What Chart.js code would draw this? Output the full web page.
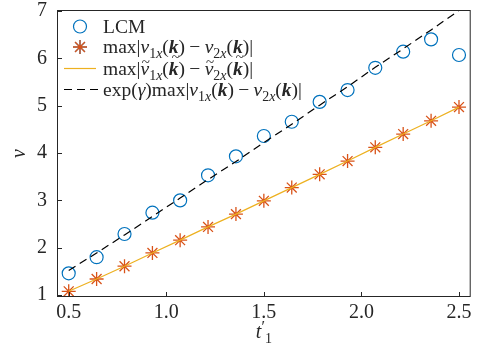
<!DOCTYPE html>
<html>
<head>
<meta charset="utf-8">
<script src="https://cdn.jsdelivr.net/npm/chart.js@4.4.0/dist/chart.umd.min.js"></script>
<style>
    body { margin: 0; background: #ffffff; }
    #wrap { width: 479px; height: 351px; }
</style>
</head>
<body>
<div id="wrap"><canvas id="chart1" width="479" height="351"></canvas></div>
<script>

/***************** DATA *****************/
const xValues = [0.5, 0.643, 0.786, 0.929, 1.071, 1.214, 1.357, 1.5, 1.643, 1.786, 1.929, 2.071, 2.214, 2.357, 2.5];
const lcmValues = [1.46, 1.80, 2.29, 2.74, 3.00, 3.53, 3.93, 4.36, 4.66, 5.08, 5.33, 5.80, 6.14, 6.40, 6.07];
const maxDiffValues = [1.08, 1.34, 1.61, 1.89, 2.16, 2.44, 2.71, 2.99, 3.27, 3.55, 3.83, 4.12, 4.40, 4.68, 4.97];
const maxDiffTildeValues = [1.08, 1.34, 1.61, 1.89, 2.16, 2.44, 2.71, 2.99, 3.27, 3.55, 3.83, 4.12, 4.40, 4.68, 4.97];
const expGammaValues = [1.52, 1.89, 2.27, 2.66, 3.05, 3.44, 3.82, 4.22, 4.61, 5.01, 5.40, 5.81, 6.20, 6.60, 7.01];
const xTicks = [0.5, 1.0, 1.5, 2.0, 2.5];
const yTicks = [1, 2, 3, 4, 5, 6, 7];

/************* COLORS / FONTS ***********/
const c_blue = '#0072BD';
const c_red = '#D95319';
const c_yellow = '#EDB120';
const c_axis = '#262626';
const serif = '"Liberation Serif", "DejaVu Serif", serif';

function toPoints(ys) {
    return xValues.map((x, i) => ({ x: x, y: ys[i] }));
}

// draws text made of runs: [text, style, flags]
function drawRich(ctx, runs, x, y, size) {
    const subSize = Math.round(size * 0.7);
    runs.forEach(r => {
        const txt = r[0], style = r[1] || '', flag = r[2] || '';
        const isSub = flag.includes('sub');
        const isSup = flag.includes('sup');
        let fs = size;
        if (isSub) fs = subSize;
        if (isSup) fs = Math.round(size * 0.8);
        let fontStyle = '';
        if (style === 'i') fontStyle = 'italic ';
        if (style === 'bi') fontStyle = 'italic bold ';
        ctx.font = fontStyle + fs + 'px ' + serif;
        let yy = y;
        if (isSub) yy = y + size * 0.27;
        if (isSup) yy = y - size * 0.3;
        if (flag.includes('sp')) x += size * 0.22;
        ctx.fillText(txt, x, yy);
        const w = ctx.measureText(txt).width;
        if (flag.includes('tilde')) {
            const high = flag.includes('tildeHigh');
            ctx.font = '15px ' + serif;
            const tw = ctx.measureText('~').width;
            ctx.fillText('~', x + w / 2 - tw / 2 + (high ? 2 : 1), yy - (high ? 13 : 8));
        }
        x += w;
        if (flag.includes('sp')) x += size * 0.22;
    });
}

const legendItems = [
    { kind: 'circle', runs: [['LCM', '']] },
    { kind: 'star', runs: [['max|', ''], ['v', 'i'], ['1', '', 'sub'], ['x', 'i', 'sub'], ['(', ''], ['k', 'bi'], [')', ''],
        ['\u2212', '', 'sp'], ['v', 'i'], ['2', '', 'sub'], ['x', 'i', 'sub'], ['(', ''], ['k', 'bi'], [')|', '']] },
    { kind: 'line', runs: [['max|', ''], ['v', 'i', 'tilde'], ['1', '', 'sub'], ['x', 'i', 'sub'], ['(', ''], ['k', 'bi', 'tildeHigh'], [')', ''],
        ['\u2212', '', 'sp'], ['v', 'i', 'tilde'], ['2', '', 'sub'], ['x', 'i', 'sub'], ['(', ''], ['k', 'bi', 'tildeHigh'], [')|', '']] },
    { kind: 'dash', runs: [['exp(', ''], ['\u03b3', 'i'], [')max|', ''], ['v', 'i'], ['1', '', 'sub'], ['x', 'i', 'sub'], ['(', ''], ['k', 'bi'], [')', ''],
        ['\u2212', '', 'sp'], ['v', 'i'], ['2', '', 'sub'], ['x', 'i', 'sub'], ['(', ''], ['k', 'bi'], [')|', '']] }
];
const legendRowY = [26.5, 47, 68.5, 89.5];

// frame, inward ticks, legend and x title
const decorPlugin = {
    id: 'decor',
    afterDraw(chart) {
        const ctx = chart.ctx;
        const a = chart.chartArea;
        const xs = chart.scales.x, ys = chart.scales.y;
        ctx.save();
        ctx.strokeStyle = c_axis;
        ctx.lineWidth = 1;
        ctx.strokeRect(a.left + 0.5, a.top + 0.5, a.right - a.left - 1, a.bottom - a.top - 1);
        ctx.beginPath();
        xTicks.forEach(t => {
            const px = Math.round(xs.getPixelForValue(t)) + 0.5;
            ctx.moveTo(px, a.bottom);
            ctx.lineTo(px, a.bottom - 5);
        });
        yTicks.forEach(t => {
            const py = Math.round(ys.getPixelForValue(t)) + 0.5;
            ctx.moveTo(a.left, py);
            ctx.lineTo(a.left + 5, py);
        });
        ctx.stroke();

        // legend
        ctx.textBaseline = 'alphabetic';
        ctx.textAlign = 'left';
        legendItems.forEach((item, i) => {
            const cy = legendRowY[i];
            if (item.kind === 'circle') {
                ctx.strokeStyle = c_blue;
                ctx.lineWidth = 1.2;
                ctx.beginPath();
                ctx.arc(80, cy, 6.5, 0, Math.PI * 2);
                ctx.stroke();
            } else if (item.kind === 'star') {
                Chart.helpers.drawPoint(ctx, { pointStyle: 'star', radius: 7, borderWidth: 1.3 }, 80, cy);
                ctx.strokeStyle = c_red;
                ctx.lineWidth = 1.3;
                ctx.stroke();
            } else if (item.kind === 'line') {
                ctx.strokeStyle = c_yellow;
                ctx.lineWidth = 1.2;
                ctx.beginPath();
                ctx.moveTo(64, cy);
                ctx.lineTo(96, cy);
                ctx.stroke();
            } else {
                ctx.strokeStyle = '#000000';
                ctx.lineWidth = 1.2;
                ctx.setLineDash([8, 5]);
                ctx.beginPath();
                ctx.moveTo(64, cy);
                ctx.lineTo(98, cy);
                ctx.stroke();
                ctx.setLineDash([]);
            }
            ctx.fillStyle = c_axis;
            drawRich(ctx, item.runs, 103, cy + 6, 19.5);
        });

        // x axis title t'_1
        const cx = (xs.left + xs.right) / 2;
        ctx.fillStyle = c_axis;
        drawRich(ctx, [['t', 'i'], ['\u2032', '', 'sup'], ['1', '', 'sub']], cx - 8, 338, 20);
        ctx.restore();
    }
};

// Get the canvas element and create the chart
const ctx = document.getElementById('chart1').getContext('2d');
const myChart = new Chart(ctx, {
    type: 'scatter',
    data: {
        datasets: [{
            label: 'LCM',
            data: toPoints(lcmValues),
            showLine: false,
            pointStyle: 'circle',
            pointRadius: 6.5,
            pointBorderWidth: 1.2,
            pointBorderColor: c_blue,
            pointBackgroundColor: 'rgba(0,0,0,0)',
            order: 4
        }, {
            label: 'max',
            data: toPoints(maxDiffValues),
            showLine: false,
            pointStyle: 'star',
            pointRadius: 7,
            pointBorderWidth: 1.3,
            pointBorderColor: c_red,
            pointBackgroundColor: c_red,
            order: 3
        }, {
            label: 'max tilde',
            data: toPoints(maxDiffTildeValues),
            showLine: true,
            borderColor: c_yellow,
            borderWidth: 1.2,
            pointRadius: 0,
            tension: 0,
            order: 2
        }, {
            label: 'exp gamma',
            data: toPoints(expGammaValues),
            showLine: true,
            borderColor: '#000000',
            borderWidth: 1.2,
            borderDash: [8, 5],
            pointRadius: 0,
            tension: 0,
            order: 1
        }]
    },
    options: {
        responsive: false,
        animation: false,
        layout: {
            padding: { top: 0, right: 7, left: 0, bottom: 0 }
        },
        plugins: {
            legend: { display: false },
            tooltip: { enabled: false }
        },
        scales: {
            x: {
                type: 'linear',
                min: 0.44,
                max: 2.56,
                grid: { display: false, drawTicks: false },
                border: { display: false },
                afterBuildTicks: (axis) => { axis.ticks = xTicks.map(v => ({ value: v })); },
                afterFit: (axis) => { axis.height = 54; },
                ticks: {
                    padding: 6,
                    color: c_axis,
                    font: { family: serif, size: 20, lineHeight: 1.0 },
                    callback: (v) => v.toFixed(1)
                }
            },
            y: {
                type: 'linear',
                min: 0.96,
                max: 7.02,
                grid: { display: false, drawTicks: false },
                border: { display: false },
                afterBuildTicks: (axis) => { axis.ticks = yTicks.map(v => ({ value: v })); },
                afterFit: (axis) => {
                    axis.width = 57;
                    axis.paddingTop = 10;
                    axis.paddingBottom = 10;
                },
                title: {
                    display: true,
                    text: 'v',
                    color: c_axis,
                    padding: { top: 8, bottom: 0 },
                    font: { family: serif, size: 20, style: 'italic' }
                },
                ticks: {
                    padding: 10,
                    color: c_axis,
                    font: { family: serif, size: 20, lineHeight: 1.0 },
                    callback: (v) => String(v)
                }
            }
        }
    },
    plugins: [decorPlugin]
});
</script>
</body>
</html>
